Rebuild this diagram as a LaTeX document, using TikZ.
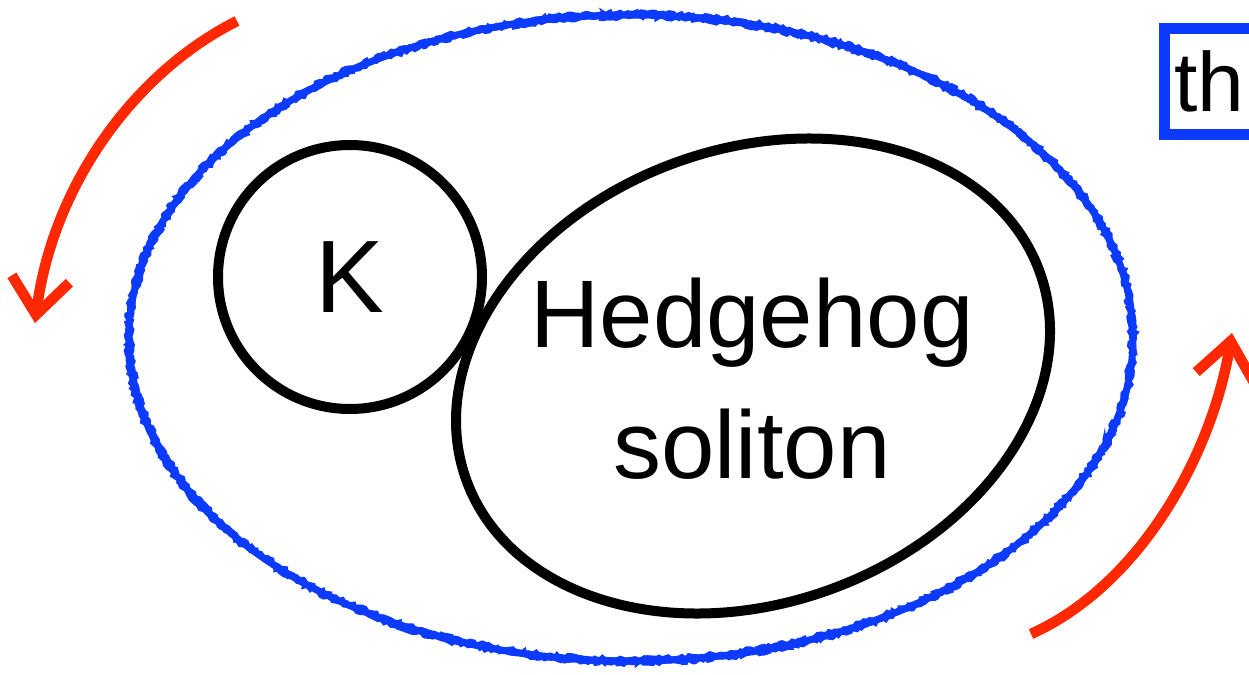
\documentclass[tikz,border=0pt]{standalone}
\usepackage{fontspec}
\setmainfont{Liberation Sans}
\usetikzlibrary{arrows.meta,decorations.pathmorphing}
\definecolor{rblue}{RGB}{12,58,255}
\definecolor{rred}{RGB}{255,40,0}
\tikzset{
  outline/.style={draw=black, line width=10pt},
  rarrow/.style={draw=rred, line width=10.5pt, -{Straight Barb[length=36pt,width=58pt]}},
  rough/.style={draw=rblue, line width=2.5pt, decorate, decoration={random steps, segment length=3pt, amplitude=1.8pt}}
}
\begin{document}
\begin{tikzpicture}[x=1pt,y=-1pt]
\useasboundingbox (0,0) rectangle (1249,674);
\clip (0,0) rectangle (1249,674);
% blue rough ellipse
\coordinate (bc) at (631,338);
\draw[draw=rblue, line width=7pt] (bc) ellipse [x radius=502pt, y radius=323pt];
\draw[rough] (bc) ellipse [x radius=505pt, y radius=326pt];
\draw[rough] (bc) ellipse [x radius=499pt, y radius=320pt];
% K circle
\node[outline, circle, minimum size=264pt, inner sep=0pt, font=\fontsize{103}{103}\selectfont] (K) at (350,277) {K};
% hedgehog ellipse
\coordinate (hc) at (753,376);
\draw[outline, rotate around={20:(hc)}] (hc) ellipse [x radius=305pt, y radius=227pt];
\node[align=center, font=\fontsize{96}{131}\selectfont] (hs) at (752,379) {Hedgehog\\soliton};
% red arrows
\coordinate (a1s) at (237,21);
\coordinate (a1e) at (35,323);
\coordinate (a2s) at (1031,634);
\coordinate (a2e) at (1232,333);
\draw[rarrow] (a1s) .. controls (130,75) and (52,190) .. (a1e);
\draw[rarrow] (a2s) .. controls (1140,585) and (1212,455) .. (a2e);
% cut-off box
\node[draw=rblue, line width=11pt, anchor=north west, minimum height=106pt, minimum width=200pt, text width=180pt, inner xsep=9pt, font=\fontsize{84}{84}\selectfont] (th) at (1159,23) {th};
\end{tikzpicture}
\end{document}
